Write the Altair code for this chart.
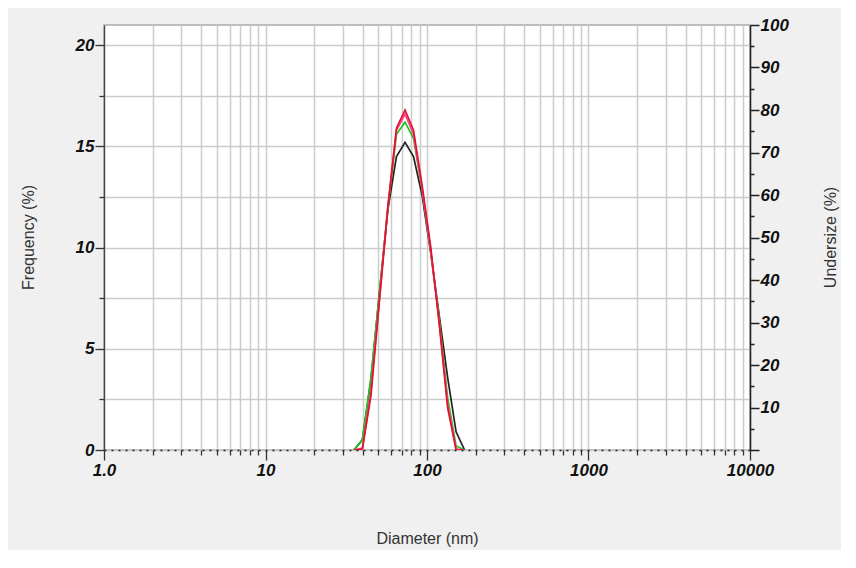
import altair as alt
import pandas as pd

# Diameters (nm) of the size bins that carry the curves
diameter = [35.3, 39.8, 45.0, 50.8, 57.3, 64.7, 73.1, 82.5, 93.2, 105.2, 118.8, 134.1, 151.4, 170.9]

# Frequency (%) for each measurement
freq_black = [0, 0.5, 3.5, 7.8, 11.9, 14.5, 15.2, 14.5, 12.6, 9.8, 6.7, 3.6, 0.9, 0]
freq_green = [0, 0.5, 3.6, 7.8, 12.0, 15.6, 16.2, 15.4, 12.9, 9.9, 6.5, 2.6, 0.2, 0]
freq_pink = [0, 0.1, 2.9, 7.5, 12.1, 15.8, 16.6, 15.6, 12.9, 9.9, 6.4, 2.3, 0.05, 0]
freq_red = [0, 0.05, 2.7, 7.4, 12.0, 15.9, 16.8, 15.8, 13.1, 10.1, 6.3, 2.1, 0, 0]

series_names = ["black", "green", "pink", "red"]
series_colors = ["#222222", "#1fc41f", "#ff3f8e", "#e3122d"]

x_ticks = [m * 10 ** e for e in range(0, 4) for m in range(1, 10)] + [10000]
y_left_ticks = [i * 2.5 for i in range(0, 9)]
y_right_ticks = list(range(0, 101, 5))

rows = []
for name, vals in zip(series_names, [freq_black, freq_green, freq_pink, freq_red]):
    for d, v in zip(diameter, vals):
        rows.append({"diameter": d, "frequency": v, "series": name})
df = pd.DataFrame(rows)

label_font = "Liberation Sans"

x_major_test = "datum.value == 1 || datum.value == 10 || datum.value == 100 || datum.value == 1000 || datum.value == 10000"

lines = alt.Chart(df).mark_line(strokeWidth=1.7, clip=True).encode(
    x=alt.X(
        "diameter:Q",
        scale=alt.Scale(type="log", domain=[1, 10000], nice=False),
        axis=alt.Axis(
            values=x_ticks,
            title="Diameter (nm)",
            labelExpr="datum.value == 1 ? '1.0' : (" + x_major_test + ") ? format(datum.value, 'd') : ''",
            labelOverlap=False,
            labelFlush=False,
            labelPadding=2,
            tickSize={"condition": {"test": x_major_test, "value": 10}, "value": 5},
            tickColor="#333333",
            tickWidth=1.3,
            domainDash=[2, 5],
            domainColor="#222222",
            domainWidth=1.3,
            grid=True,
            gridColor="#cccccc",
            gridWidth=1.5,
            titleX=323,
            titleY=80,
            titleBaseline="top",
        ),
    ),
    y=alt.Y(
        "frequency:Q",
        scale=alt.Scale(domain=[0, 21], nice=False),
        axis=alt.Axis(
            values=y_left_ticks,
            title="Frequency (%)",
            labelExpr="datum.value % 5 == 0 ? format(datum.value, 'd') : ''",
            labelOverlap=False,
            labelPadding=1,
            tickSize={"condition": {"test": "datum.value % 5 == 0", "value": 9}, "value": 5},
            tickColor="#333333",
            tickWidth=1.3,
            domainColor="#444444",
            domainWidth=1.3,
            grid=True,
            gridColor="#cccccc",
            gridWidth=1.5,
            titleX=-76,
            titleY=212,
            titleAngle=270,
            titleBaseline="middle",
        ),
    ),
    color=alt.Color(
        "series:N",
        scale=alt.Scale(domain=series_names, range=series_colors),
        legend=None,
    ),
    order=alt.Order("series:N"),
)

right_axis = alt.Chart(df).mark_point(opacity=0).encode(
    y=alt.Y(
        datum=0,
        type="quantitative",
        scale=alt.Scale(domain=[0, 100], nice=False),
        axis=alt.Axis(
            orient="right",
            values=y_right_ticks,
            title="Undersize (%)",
            labelExpr="(datum.value % 10 == 0 && datum.value > 0) ? format(datum.value, 'd') : ''",
            labelOverlap=False,
            labelPadding=1,
            tickSize={"condition": {"test": "datum.value % 10 == 0", "value": 9}, "value": 4},
            tickColor="#222222",
            tickWidth=1.5,
            domainColor="#222222",
            domainWidth=1.5,
            grid=False,
            titleX=80,
            titleY=212,
            titleAngle=270,
            titleBaseline="middle",
        ),
    ),
)

chart = (
    alt.layer(lines, right_axis)
    .resolve_scale(y="independent")
    .properties(
        width=646,
        height=425,
        padding={"left": 96, "top": 17, "right": 91, "bottom": 100},
        autosize=alt.AutoSizeParams(type="none"),
        background="#f0f0f0",
    )
    .configure_view(fill="white", stroke="#aaaaaa", strokeWidth=1.5)
    .configure_axis(
        labelFont=label_font,
        labelFontSize=17,
        labelFontWeight="bold",
        labelFontStyle="italic",
        labelColor="#111111",
        titleFont=label_font,
        titleFontSize=16,
        titleFontWeight="normal",
        titleColor="#333333",
    )
)

chart.save("out.html", embed_options={"renderer": "svg", "actions": False})
